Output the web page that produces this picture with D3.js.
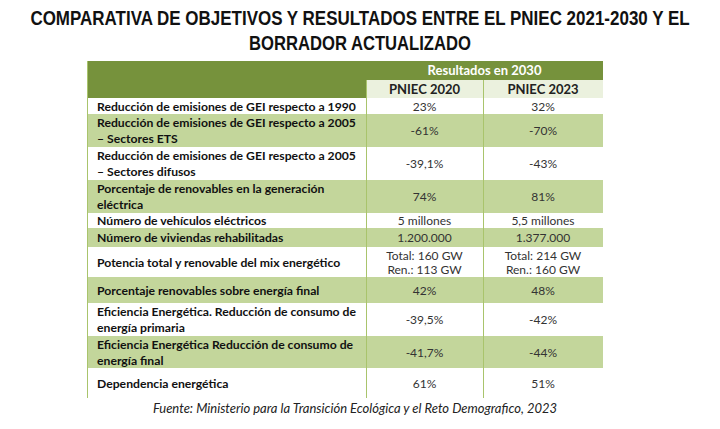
<!DOCTYPE html>
<html><head><meta charset="utf-8">
<script src="https://cdn.jsdelivr.net/npm/d3@7"></script>
<style>
html,body{margin:0;padding:0;background:#fff;}
svg{display:block;}
</style></head>
<body>
<svg id="c" width="720" height="429"></svg>
<script>
const titleLines = ["COMPARATIVA DE OBJETIVOS Y RESULTADOS ENTRE EL PNIEC 2021-2030 Y EL", "BORRADOR ACTUALIZADO"];
const groupHeader = "Resultados en 2030";
const columns = ["PNIEC 2020", "PNIEC 2023"];
const indicators = [
  ["Reducción de emisiones de GEI respecto a 1990"],
  ["Reducción de emisiones de GEI respecto a 2005", "– Sectores ETS"],
  ["Reducción de emisiones de GEI respecto a 2005", "– Sectores difusos"],
  ["Porcentaje de renovables en la generación", "eléctrica"],
  ["Número de vehículos eléctricos"],
  ["Número de viviendas rehabilitadas"],
  ["Potencia total y renovable del mix energético"],
  ["Porcentaje renovables sobre energía final"],
  ["Eficiencia Energética. Reducción de consumo de", "energía primaria"],
  ["Eficiencia Energética Reducción de consumo de", "energía final"],
  ["Dependencia energética"]
];
const pniec2020 = [["23%"],["-61%"],["-39,1%"],["74%"],["5 millones"],["1.200.000"],["Total: 160 GW","Ren.: 113 GW"],["42%"],["-39,5%"],["-41,7%"],["61%"]];
const pniec2023 = [["32%"],["-70%"],["-43%"],["81%"],["5,5 millones"],["1.377.000"],["Total: 214 GW","Ren.: 160 GW"],["48%"],["-42%"],["-44%"],["51%"]];
const sourceText = "Fuente: Ministerio para la Transición Ecológica y el Reto Demografico, 2023";

// layout
const rowHeights = [16, 33, 33, 33, 15, 19, 30, 26, 33, 32, 30];
const colEdges = [87, 366, 483, 603];
const headTop = 61, subTop = 80, bodyTop = 98;
const darkGreen = "#76923c", lightGreen = "#c3d69b", paleGreen = "#ebf1de", lineGreen = "#a9c46c";
const font = "Lato, 'Open Sans', sans-serif";

const svg = d3.select("#c");

// title (condensed via horizontal scaling)
const titleWidths = [660, 222];
svg.selectAll("text.title").data(titleLines).join("text")
  .attr("class","title")
  .attr("x", 0).attr("y", 0)
  .attr("text-anchor","middle")
  .attr("font-family","'Liberation Sans',Arial,sans-serif")
  .attr("font-weight","bold").attr("font-size", 19.5).attr("fill","#111")
  .text(d=>d)
  .each(function(d,i){
    const w = this.getComputedTextLength();
    const s = titleWidths[i]/w;
    d3.select(this).attr("transform", `translate(360,${24.5 + i*25}) scale(${s},1)`);
  });

// row positions via cumulative heights
const rowTops = [];
rowHeights.reduce((acc,h,i)=>{ rowTops[i]=acc; return acc+h; }, bodyTop);
const bodyBottom = bodyTop + d3.sum(rowHeights);

// header
svg.append("rect").attr("x", colEdges[0]).attr("y", headTop).attr("width", colEdges[3]-colEdges[0]).attr("height", subTop-headTop).attr("fill", darkGreen);
svg.append("rect").attr("x", colEdges[0]).attr("y", subTop).attr("width", colEdges[1]-colEdges[0]).attr("height", bodyTop-subTop).attr("fill", darkGreen);
svg.append("rect").attr("x", colEdges[1]).attr("y", subTop).attr("width", colEdges[3]-colEdges[1]).attr("height", bodyTop-subTop).attr("fill", paleGreen);
svg.append("text").attr("x", (colEdges[1]+colEdges[3])/2).attr("y", subTop-5)
  .attr("text-anchor","middle").attr("font-family",font).attr("font-weight","bold")
  .attr("font-size",13).attr("fill","#fff").text(groupHeader);
svg.selectAll("text.colh").data(columns).join("text").attr("class","colh")
  .attr("x",(d,i)=>(colEdges[i+1]+colEdges[i+2])/2).attr("y", bodyTop-4.5)
  .attr("text-anchor","middle").attr("font-family",font).attr("font-weight","bold")
  .attr("font-size",13).attr("fill","#222").text(d=>d);

// rows
const rows = svg.selectAll("g.row").data(indicators.map((lab,i)=>({lab, v:[pniec2020[i],pniec2023[i]], i})))
  .join("g").attr("class","row").attr("transform", d=>`translate(0,${rowTops[d.i]})`);
rows.append("rect").attr("x", colEdges[0]).attr("y",0).attr("width", colEdges[3]-colEdges[0])
  .attr("height", d=>rowHeights[d.i]).attr("fill", d=> d.i%2===1 ? lightGreen : "#fff");
rows.each(function(d){
  const g = d3.select(this), h = rowHeights[d.i];
  const lh = 16;
  const y0 = h/2 - (d.lab.length-1)*lh/2 + 4.5;
  g.selectAll("text.lab").data(d.lab).join("text").attr("class","lab")
    .attr("x", colEdges[0]+10).attr("y",(t,k)=>y0+k*lh)
    .attr("font-family",font).attr("font-weight","bold").attr("font-size",12.2)
    .attr("fill","#111").text(t=>t);
  d.v.forEach((vals,c)=>{
    const vy0 = h/2 - (vals.length-1)*14/2 + 4.5;
    g.selectAll("text.v"+c).data(vals).join("text").attr("class","v"+c)
      .attr("x",(colEdges[c+1]+colEdges[c+2])/2).attr("y",(t,k)=>vy0+k*14)
      .attr("text-anchor","middle").attr("font-family",font).attr("font-size",12)
      .attr("fill","#333").text(t=>t);
  });
});

// grid lines
[colEdges[0], colEdges[1], colEdges[2]].forEach((x,i)=>{
  svg.append("line").attr("x1",x+0.5).attr("x2",x+0.5)
    .attr("y1", i===0 ? headTop : subTop).attr("y2", bodyBottom)
    .attr("stroke", lineGreen).attr("stroke-width",1);
});

// source
svg.append("text").attr("x", 355).attr("y", 413).attr("text-anchor","middle")
  .attr("font-family",font).attr("font-style","italic").attr("font-size",13)
  .attr("fill","#222").text(sourceText);
</script>
</body></html>
